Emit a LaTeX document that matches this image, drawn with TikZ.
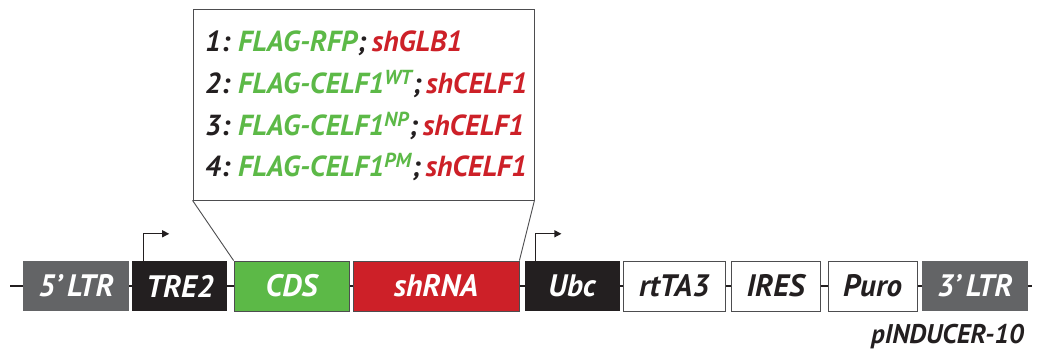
\documentclass[tikz,border=0pt]{standalone}
\usepackage{fontspec}
\setmainfont{PT Sans}
\usetikzlibrary{arrows.meta,positioning,backgrounds}

\definecolor{ltrgray}{HTML}{636466}
\definecolor{nearblack}{HTML}{231F20}
\definecolor{cdsgreen}{HTML}{5CB947}
\definecolor{shred}{HTML}{CD2028}
\definecolor{edgegray}{HTML}{4D4D4F}

\begin{document}
\begin{tikzpicture}[
    x=1pt, y=1pt,
    every node/.style={font=\fontsize{31}{36}\selectfont\bfseries\itshape},
    fillseg/.style={
      rectangle, inner sep=0pt, minimum height=50pt, fill=#1, text=white
    },
    edgeseg/.style={
      rectangle, inner sep=0pt, minimum height=50pt, fill=#1,
      draw=edgegray, line width=0.9pt
    },
    varline/.style={anchor=base west, inner sep=0pt, text=nearblack,
      font=\fontsize{29}{34}\selectfont\bfseries\itshape},
    backbone/.style={line width=1.5pt, nearblack},
    promarr/.style={-{Triangle[length=7pt,width=7pt]}, line width=1.2pt, nearblack}
  ]
    \useasboundingbox (0,0) rectangle (1039,352);

    % vector segments
    \node[fillseg=ltrgray, minimum width=106pt] (ltrL) at (76,66) {5'\,LTR};
    \node[fillseg=nearblack, minimum width=95pt, right=3pt of ltrL] (tre) {TRE2};
    \node[edgeseg=cdsgreen, text=white, minimum width=115pt, right=6pt of tre] (cds) {CDS};
    \node[edgeseg=shred, text=white, minimum width=166pt, right=3pt of cds] (shrna) {shRNA};
    \node[fillseg=nearblack, minimum width=95pt, right=5pt of shrna] (ubc) {Ubc};
    \node[edgeseg=white, text=nearblack, minimum width=102pt, right=3pt of ubc] (rtta) {rtTA3};
    \node[edgeseg=white, text=nearblack, minimum width=89pt, right=5pt of rtta] (ires) {IRES};
    \node[edgeseg=white, text=nearblack, minimum width=89pt, right=7pt of ires] (puro) {Puro};
    \node[fillseg=ltrgray, minimum width=106pt, right=4pt of puro] (ltrR) {3'\,LTR};

    % backbone behind the segments
    \coordinate (bbL) at (10,66);
    \coordinate (bbR) at (1032,66);
    \begin{scope}[on background layer]
      \draw[backbone] (bbL) -- (bbR);
    \end{scope}

    % promoters
    \draw[promarr] ([xshift=11pt]tre.north west) |- ++(26,27);
    \draw[promarr] ([xshift=11pt]ubc.north west) |- ++(26,27);

    % zoom box with the constructs
    \node[draw=edgegray, line width=0.9pt, fill=white, minimum width=341pt,
      minimum height=191pt, inner sep=0pt] (zoomBox) at (363.5,247.5) {};
    \node[varline] (v1) at (205,300)
      {1:\hspace{8pt}\textcolor{cdsgreen}{FLAG-RFP};\hspace{6pt}\textcolor{shred}{shGLB1}};
    \node[varline] (v2) at (205,258.3)
      {2:\hspace{8pt}\textcolor{cdsgreen}{FLAG-CELF1\textsuperscript{WT}};\hspace{5pt}\textcolor{shred}{shCELF1}};
    \node[varline] (v3) at (205,216.7)
      {3:\hspace{8pt}\textcolor{cdsgreen}{FLAG-CELF1\textsuperscript{NP}};\hspace{5pt}\textcolor{shred}{shCELF1}};
    \node[varline] (v4) at (205,175)
      {4:\hspace{8pt}\textcolor{cdsgreen}{FLAG-CELF1\textsuperscript{PM}};\hspace{5pt}\textcolor{shred}{shCELF1}};

    \draw[line width=0.9pt, edgegray] (zoomBox.south west) -- (cds.north west);
    \draw[line width=0.9pt, edgegray] (zoomBox.south east) -- (shrna.north east);

    % vector name
    \node[anchor=base east, inner sep=0pt, text=nearblack,
      font=\fontsize{27}{32}\selectfont\bfseries\itshape] (vecname) at (1024,8) {pINDUCER-10};
  \end{tikzpicture}
\end{document}
